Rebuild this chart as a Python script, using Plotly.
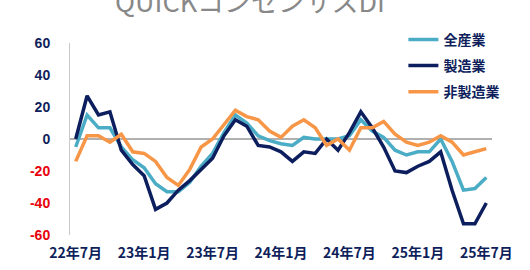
import plotly.graph_objects as go

months = list(range(37))
tick_pos = [0, 6, 12, 18, 24, 30, 36]
tick_labels = ["22年7月", "23年1月", "23年7月", "24年1月", "24年7月", "25年1月", "25年7月"]

all_ind = [-5, 15, 7, 7, -5, -13, -18, -28, -33, -33, -27, -17, -9, 4, 15, 10, 2, -1, -3, -4,
           1, 0, 0, 0, 2, 12, 5, 1, -7, -10, -8, -8, 0, -14, -32, -31, -24]
manuf = [0, 27, 15, 17, -7, -16, -23, -44, -40, -32, -26, -19, -12, 2, 12, 8, -4, -5, -8, -14,
         -8, -9, 0, -7, 4, 17, 7, -5, -20, -21, -17, -14, -8, -32, -53, -53, -40]
nonmanuf = [-14, 2, 2, -2, 3, -8, -9, -14, -24, -29, -19, -5, 0, 9, 18, 14, 12, 5, 1, 8,
            12, 7, -4, 0, -7, 7, 7, 11, 3, -2, -4, -2, 2, -2, -10, -8, -6]

y_ticks = [-60, -40, -20, 0, 20, 40, 60]

NAVY = "#0f1f5c"
RED = "#e8000b"
ytext = []
for v in y_ticks:
    c = RED if v < 0 else NAVY
    ytext.append(f'<span style="color:{c}">{v}</span>')

series = [
    ("全産業", all_ind, "#4bacc6"),
    ("製造業", manuf, "#0d1e5e"),
    ("非製造業", nonmanuf, "#f79646"),
]

fig = go.Figure()
for name, vals, col in series:
    fig.add_trace(go.Scatter(x=months, y=vals, name=name, mode="lines",
                             line=dict(color=col, width=3.5), legendgroup=name))

fig.update_layout(
    width=530, height=270,
    margin=dict(l=70, r=38, t=43, b=35, autoexpand=False),
    paper_bgcolor="white", plot_bgcolor="white",
    font=dict(family="Noto Sans CJK JP", size=14, color=NAVY),
    showlegend=True,
    legend=dict(x=0.79, xanchor="left", y=1.10, yanchor="top",
                font=dict(family="Noto Sans CJK JP", size=14, color=NAVY, weight="bold"),
                tracegroupgap=5, bgcolor="rgba(0,0,0,0)"),
    annotations=[dict(text="QUICKコンセンサスDI", xref="paper", yref="paper",
                      x=0.427, y=1, xanchor="center", yanchor="bottom", yshift=21,
                      showarrow=False,
                      font=dict(family="Noto Sans CJK JP", size=27, color="#888888"))],
)
fig.update_xaxes(range=[-0.5, 36.5], tickvals=tick_pos, ticktext=tick_labels,
                 showgrid=False, zeroline=False, showline=False,
                 ticks="outside", ticklen=5, tickcolor="rgba(0,0,0,0)",
                 tickfont=dict(family="Noto Sans CJK JP", size=14, color=NAVY, weight="bold"))
fig.update_yaxes(range=[-60, 60], tickvals=y_ticks, ticktext=ytext,
                 showgrid=False, zeroline=True, zerolinecolor="#b0b0b0", zerolinewidth=1.5,
                 showline=True, linecolor="#c8c8c8", linewidth=1,
                 ticks="outside", ticklen=16, tickcolor="rgba(0,0,0,0)",
                 tickfont=dict(family="Liberation Sans", size=14, color=NAVY, weight="bold"))

fig.write_html("out.html")
